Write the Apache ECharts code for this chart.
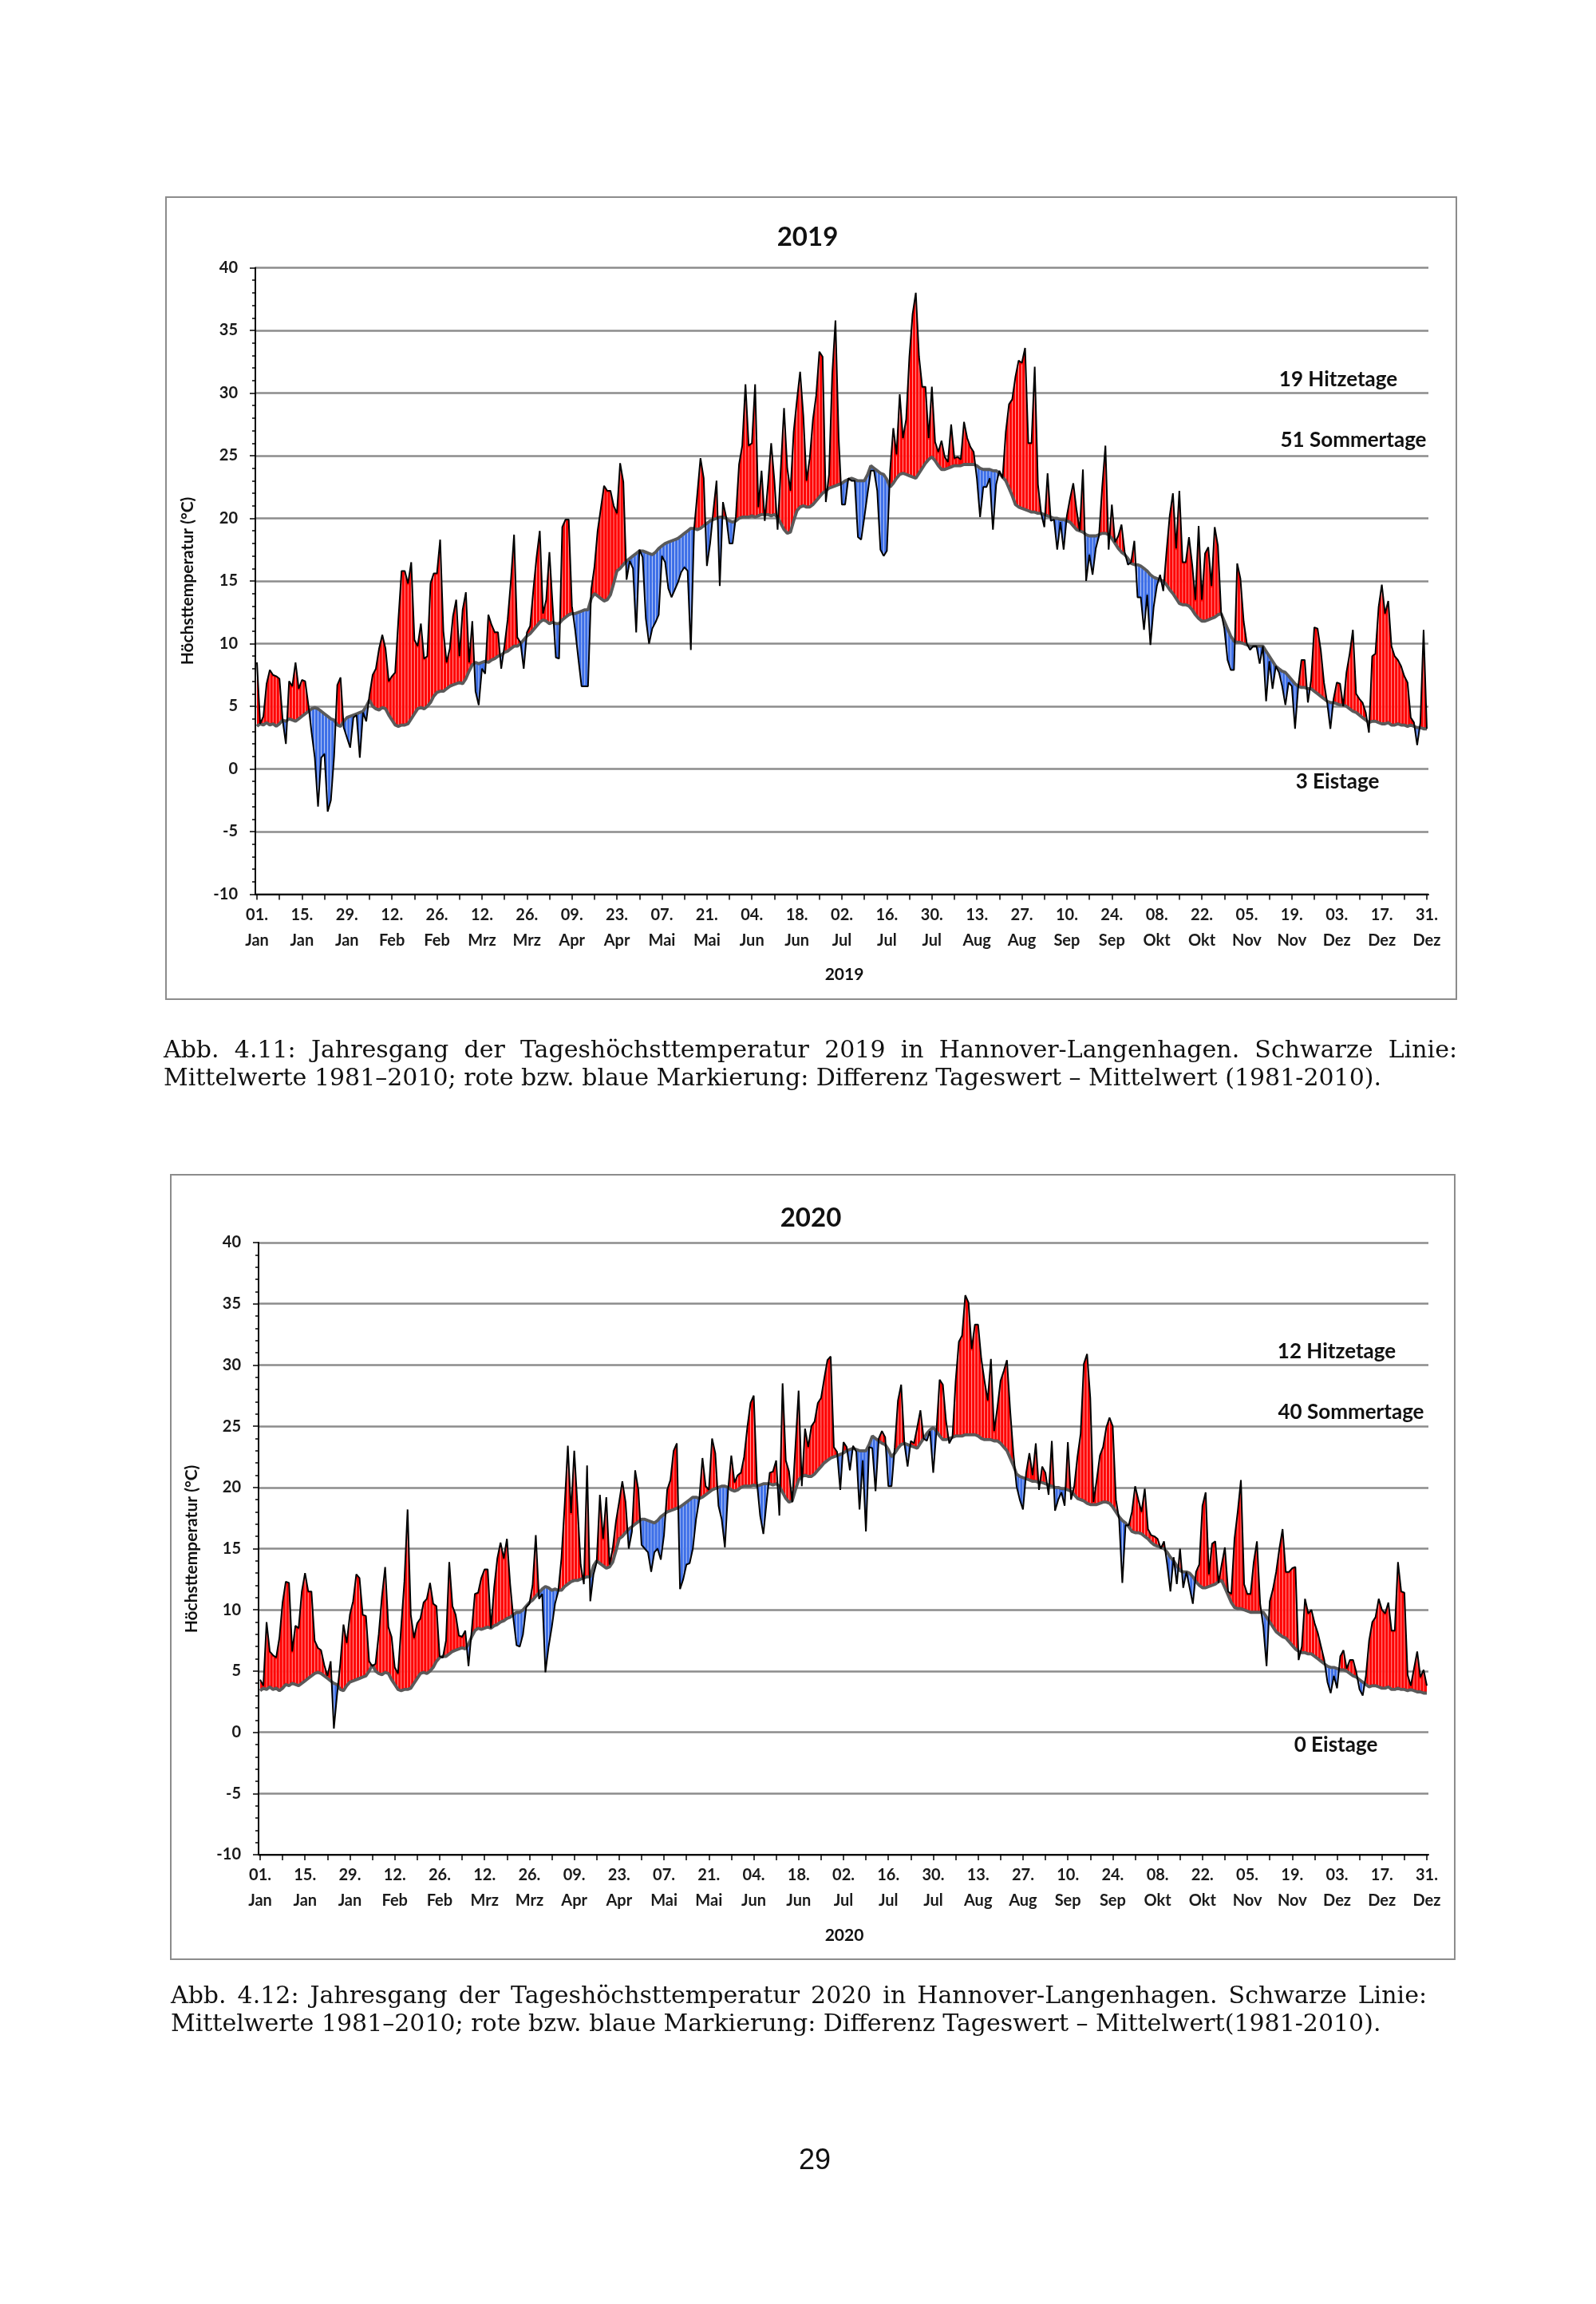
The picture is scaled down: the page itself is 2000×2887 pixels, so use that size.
<!DOCTYPE html>
<html>
<head>
<meta charset="utf-8">
<title>Jahresgang der Tageshöchsttemperatur 2019 / 2020 Hannover-Langenhagen</title>
<script src="https://cdn.jsdelivr.net/npm/echarts@6/dist/echarts.min.js"></script>
<style>
    html, body { margin: 0; padding: 0; background: #fff; }
    #page { position: relative; width: 2000px; height: 2887px; background: #fff; }
    #chart { position: absolute; left: 0; top: 0; width: 2000px; height: 2887px; }
    .cap { position: absolute; font-family: 'DejaVu Serif', serif; font-size: 26px; color: #111; line-height: 35px; white-space: nowrap; }
    .cap div.l1 { text-align: justify; text-align-last: justify; }
    .cap div.l2 { text-align: left; }
    #pnum { position: absolute; left: 921px; width: 200px; top: 2685px; text-align: center;
            font-family: 'Liberation Sans', Arial, sans-serif; font-size: 36px; color: #111; }
</style>
</head>
<body>
<div id="page">
    <div id="chart"></div>
    <div class="cap" id="cap1" style="left:205px; top:1297px; width:1621px;">
        <div class="l1">Abb. 4.11: Jahresgang der Tageshöchsttemperatur 2019 in Hannover-Langenhagen. Schwarze Linie:</div>
        <div class="l2"><span id="probe">Mittelwerte 1981–2010; rote bzw. blaue Markierung: Differenz Tageswert – Mittelwert (1981-2010).</span></div>
    </div>
    <div class="cap" id="cap2" style="left:214px; top:2482px; width:1574px;">
        <div class="l1">Abb. 4.12: Jahresgang der Tageshöchsttemperatur 2020 in Hannover-Langenhagen. Schwarze Linie:</div>
        <div class="l2">Mittelwerte 1981–2010; rote bzw. blaue Markierung: Differenz Tageswert – Mittelwert(1981-2010).</div>
    </div>
    <div id="pnum">29</div>
</div>
<script type="text/javascript">
    // Achsenbeschriftung (alle 14 Tage)
    var TICK_DAY = ['01.','15.','29.','12.','26.','12.','26.','09.','23.','07.','21.','04.','18.','02.',
                    '16.','30.','13.','27.','10.','24.','08.','22.','05.','19.','03.','17.','31.'];
    var TICK_MON = ['Jan','Jan','Jan','Feb','Feb','Mrz','Mrz','Apr','Apr','Mai','Mai','Jun','Jun','Jul',
                    'Jul','Jul','Aug','Aug','Sep','Sep','Okt','Okt','Nov','Nov','Dez','Dez','Dez'];

    // Mittelwert 1981-2010 (graue Linie), Tag 1..365
    var MEAN = [
        3.4, 3.6, 3.5, 3.7, 3.5, 3.6, 3.4, 3.6, 3.9, 3.8,
        4.0, 3.9, 3.8, 4.0, 4.2, 4.4, 4.6, 4.8, 4.9, 4.8,
        4.6, 4.4, 4.2, 4.0, 3.9, 3.5, 3.4, 3.8, 4.1, 4.2,
        4.3, 4.4, 4.5, 4.6, 5.0, 5.5, 5.0, 4.8, 4.7, 4.9,
        4.8, 4.3, 3.9, 3.5, 3.4, 3.5, 3.5, 3.6, 4.0, 4.4,
        4.8, 4.9, 4.8, 5.0, 5.3, 5.8, 6.1, 6.2, 6.2, 6.4,
        6.6, 6.7, 6.8, 6.9, 6.8, 7.2, 7.8, 8.3, 8.5, 8.4,
        8.5, 8.6, 8.5, 8.7, 8.8, 9.0, 9.1, 9.3, 9.4, 9.6,
        9.8, 9.8, 10.0, 10.3, 10.6, 10.8, 11.1, 11.4, 11.7, 11.9,
        11.8, 11.6, 11.7, 11.6, 11.6, 11.9, 12.1, 12.3, 12.4, 12.4,
        12.5, 12.6, 12.7, 12.7, 13.6, 14.0, 13.8, 13.6, 13.4, 13.5,
        13.9, 14.8, 15.8, 16.0, 16.3, 16.6, 16.8, 17.0, 17.2, 17.4,
        17.4, 17.3, 17.2, 17.1, 17.3, 17.6, 17.8, 18.0, 18.1, 18.2,
        18.3, 18.4, 18.6, 18.8, 19.0, 19.2, 19.2, 19.1, 19.2, 19.4,
        19.6, 19.8, 19.9, 20.0, 20.1, 20.1, 20.0, 19.8, 19.7, 19.8,
        20.0, 20.1, 20.1, 20.1, 20.2, 20.1, 20.2, 20.3, 20.3, 20.3,
        20.2, 20.3, 20.1, 19.6, 19.1, 18.8, 18.9, 19.8, 20.6, 20.9,
        21.0, 20.9, 20.9, 21.1, 21.4, 21.7, 22.0, 22.2, 22.4, 22.5,
        22.6, 22.7, 22.8, 23.0, 23.1, 23.2, 23.1, 23.0, 23.0, 23.0,
        23.5, 24.2, 24.0, 23.8, 23.6, 23.5, 23.1, 22.5, 22.8, 23.2,
        23.5, 23.6, 23.5, 23.4, 23.3, 23.2, 23.6, 24.0, 24.4, 24.7,
        24.9, 24.6, 24.2, 23.9, 23.9, 24.0, 24.1, 24.2, 24.2, 24.2,
        24.3, 24.3, 24.3, 24.3, 24.2, 24.0, 23.9, 23.9, 23.9, 23.8,
        23.8, 23.6, 23.3, 23.0, 22.4, 21.8, 21.1, 20.9, 20.8, 20.7,
        20.6, 20.5, 20.5, 20.4, 20.4, 20.3, 20.2, 20.1, 20.0, 20.0,
        19.9, 19.9, 19.8, 19.7, 19.4, 19.1, 19.0, 18.9, 18.7, 18.6,
        18.6, 18.6, 18.7, 18.8, 18.8, 18.7, 18.4, 18.0, 17.6, 17.3,
        17.1, 16.8, 16.4, 16.3, 16.3, 16.2, 16.0, 15.8, 15.5, 15.3,
        15.2, 15.1, 15.0, 14.7, 14.3, 14.0, 13.6, 13.2, 13.1, 13.1,
        13.0, 12.7, 12.3, 12.0, 11.8, 11.8, 11.9, 12.0, 12.1, 12.3,
        12.4, 11.8, 11.2, 10.6, 10.2, 10.1, 10.1, 10.0, 9.9, 9.8,
        9.8, 9.8, 9.8, 9.8, 9.4, 9.0, 8.6, 8.2, 8.0, 7.8,
        7.7, 7.4, 7.1, 6.8, 6.6, 6.5, 6.5, 6.4, 6.4, 6.2,
        6.0, 5.8, 5.6, 5.4, 5.3, 5.3, 5.2, 5.1, 5.1, 5.0,
        4.8, 4.6, 4.5, 4.3, 4.1, 3.9, 3.7, 3.8, 3.8, 3.7,
        3.6, 3.6, 3.7, 3.5, 3.5, 3.6, 3.5, 3.5, 3.4, 3.5,
        3.4, 3.3, 3.3, 3.2, 3.2
    ];

    // Tageshöchsttemperatur 2019
    var Y2019 = [
        8.5, 3.6, 4.2, 6.8, 7.9, 7.5, 7.4, 7.2, 3.9, 2.0,
        7.0, 6.6, 8.5, 6.4, 7.1, 7.0, 5.1, 2.9, 0.9, -3.0,
        0.9, 1.2, -3.4, -2.5, 1.0, 6.7, 7.3, 3.3, 2.5, 1.7,
        4.1, 4.3, 0.9, 4.5, 3.8, 5.9, 7.5, 8.0, 9.6, 10.7,
        9.6, 7.0, 7.4, 7.7, 11.9, 15.8, 15.8, 14.8, 16.5, 10.3,
        9.8, 11.6, 8.8, 9.0, 14.8, 15.6, 15.6, 18.3, 11.0, 8.5,
        9.6, 12.2, 13.5, 9.0, 12.7, 14.1, 8.5, 11.8, 6.2, 5.1,
        8.0, 7.6, 12.3, 11.5, 10.9, 10.9, 8.0, 9.8, 11.9, 15.0,
        18.7, 10.5, 10.1, 8.0, 10.9, 11.4, 14.3, 16.9, 19.0, 12.4,
        13.5, 17.3, 13.0, 8.9, 8.8, 19.3, 19.9, 19.9, 13.0, 11.1,
        8.8, 6.6, 6.6, 6.6, 14.3, 16.1, 19.0, 20.8, 22.6, 22.2,
        22.2, 21.0, 20.4, 24.4, 22.9, 15.1, 16.6, 16.0, 10.9, 17.5,
        16.9, 12.0, 10.0, 11.2, 11.7, 12.3, 17.0, 16.5, 14.4, 13.7,
        14.3, 14.9, 15.7, 16.1, 15.8, 9.5, 19.1, 21.9, 24.8, 23.2,
        16.2, 18.0, 20.6, 23.0, 14.6, 21.3, 20.1, 18.0, 18.0, 20.1,
        24.3, 25.8, 30.7, 25.8, 26.0, 30.7, 20.9, 23.8, 19.8, 22.7,
        26.0, 23.0, 19.1, 24.0, 28.8, 24.0, 22.2, 26.9, 29.4, 31.7,
        28.2, 23.0, 24.8, 27.9, 29.8, 33.3, 32.9, 21.3, 23.5, 31.5,
        35.8, 26.4, 21.1, 21.1, 23.2, 23.0, 23.0, 18.5, 18.3, 20.1,
        22.0, 23.8, 23.8, 22.2, 17.5, 17.0, 17.4, 23.8, 27.2, 25.1,
        29.9, 26.4, 27.9, 32.9, 36.3, 38.0, 32.9, 30.5, 30.5, 26.4,
        30.5, 26.1, 25.3, 26.2, 24.9, 24.5, 27.5, 24.8, 24.9, 24.7,
        27.7, 26.4, 25.7, 25.3, 23.2, 20.1, 22.5, 22.5, 23.2, 19.1,
        22.7, 23.8, 23.2, 26.9, 29.1, 29.5, 31.3, 32.6, 32.4, 33.6,
        26.0, 26.0, 32.1, 22.7, 20.4, 19.3, 23.6, 19.8, 19.9, 17.5,
        19.7, 17.5, 20.2, 21.6, 22.8, 20.7, 19.0, 23.9, 15.0, 17.1,
        15.5, 17.6, 18.6, 22.5, 25.8, 17.5, 21.1, 18.1, 18.6, 19.5,
        17.3, 16.3, 16.5, 18.2, 13.7, 13.7, 11.1, 13.9, 9.9, 12.9,
        14.6, 15.5, 14.2, 17.3, 20.2, 22.0, 17.6, 22.2, 16.5, 16.5,
        18.5, 16.3, 13.5, 19.4, 13.5, 17.2, 17.7, 14.6, 19.3, 17.8,
        12.5, 11.2, 8.7, 7.9, 7.9, 16.4, 15.2, 11.8, 10.0, 9.5,
        9.8, 9.8, 8.4, 9.8, 5.4, 8.6, 6.4, 8.2, 7.7, 6.6,
        5.1, 6.9, 6.6, 3.2, 6.6, 8.7, 8.7, 5.3, 7.1, 11.3,
        11.2, 9.5, 6.9, 5.3, 3.2, 5.6, 6.9, 6.8, 5.0, 7.7,
        9.2, 11.1, 6.0, 5.6, 5.3, 4.5, 2.9, 9.0, 9.2, 12.9,
        14.7, 12.4, 13.4, 9.8, 9.0, 8.7, 8.2, 7.4, 6.9, 4.1,
        3.7, 1.9, 3.7, 11.1, 3.2
    ];

    // Tageshöchsttemperatur 2020
    var Y2020 = [
        4.3, 3.8, 9.0, 6.6, 6.3, 6.1, 7.7, 10.6, 12.3, 12.2,
        6.6, 8.7, 8.5, 11.5, 13.0, 11.5, 11.5, 7.5, 6.9, 6.7,
        5.5, 4.6, 5.8, 0.3, 3.1, 5.6, 8.8, 7.3, 9.6, 10.7,
        12.9, 12.6, 9.6, 9.5, 5.8, 5.4, 5.6, 8.0, 11.1, 13.5,
        8.6, 7.8, 5.3, 4.8, 8.6, 12.3, 18.2, 9.6, 7.7, 8.9,
        9.3, 10.6, 10.9, 12.2, 10.5, 10.3, 6.2, 6.1, 7.5, 13.9,
        10.3, 9.6, 7.9, 7.8, 8.3, 5.4, 8.3, 11.3, 11.4, 12.6,
        13.3, 13.3, 8.5, 11.8, 14.2, 15.5, 14.2, 15.8, 12.1, 9.3,
        7.1, 7.0, 8.0, 10.2, 10.5, 12.0, 16.1, 10.9, 11.3, 4.9,
        7.0, 8.6, 10.5, 11.5, 14.2, 18.5, 23.4, 17.9, 23.0, 18.5,
        13.7, 12.1, 21.8, 10.7, 12.9, 13.9, 19.4, 15.8, 19.2, 13.7,
        15.0, 17.2, 18.8, 20.5, 18.8, 15.0, 16.4, 21.4, 19.8, 15.3,
        15.0, 14.7, 13.1, 14.7, 15.0, 14.1, 16.1, 19.8, 20.6, 23.0,
        23.6, 11.7, 12.5, 13.7, 13.8, 15.0, 17.4, 19.0, 22.4, 20.1,
        19.8, 24.0, 22.8, 18.5, 17.4, 15.1, 19.8, 22.6, 20.4, 21.0,
        21.2, 22.5, 24.9, 26.9, 27.5, 20.4, 17.7, 16.2, 18.8, 21.2,
        21.3, 22.2, 17.7, 28.5, 22.2, 21.3, 18.8, 23.3, 27.9, 20.1,
        24.8, 23.3, 25.0, 25.4, 26.9, 27.3, 28.9, 30.4, 30.7, 23.3,
        22.9, 19.8, 23.7, 23.3, 21.4, 23.4, 22.9, 18.2, 22.2, 16.4,
        23.3, 23.2, 19.7, 24.0, 24.6, 24.1, 20.1, 20.1, 23.3, 27.1,
        28.4, 23.6, 21.7, 23.8, 23.6, 24.9, 26.3, 24.0, 23.8, 24.6,
        21.2, 24.6, 28.8, 28.4, 25.4, 23.6, 24.1, 28.7, 31.9, 32.4,
        35.7, 35.1, 31.3, 33.3, 33.3, 30.5, 28.7, 27.1, 30.5, 24.6,
        26.5, 28.7, 29.5, 30.4, 26.3, 22.8, 20.1, 19.0, 18.2, 21.2,
        22.8, 21.0, 23.6, 19.8, 21.7, 21.2, 19.4, 23.8, 18.1, 19.0,
        19.6, 18.5, 23.7, 19.0, 20.1, 22.5, 24.4, 30.1, 30.9, 27.3,
        18.8, 20.6, 22.6, 23.3, 24.9, 25.7, 25.0, 19.0, 17.4, 12.2,
        16.9, 16.9, 18.0, 20.1, 19.0, 18.0, 19.9, 16.6, 16.1, 16.0,
        15.8, 15.0, 15.6, 13.7, 11.5, 14.3, 12.1, 15.0, 11.8, 13.1,
        11.8, 10.5, 13.1, 13.7, 18.5, 19.6, 12.9, 15.4, 15.6, 12.2,
        13.7, 15.1, 11.5, 11.3, 15.8, 18.0, 20.6, 12.1, 11.3, 11.3,
        13.9, 15.6, 10.5, 8.6, 5.4, 10.7, 11.7, 13.1, 15.0, 16.6,
        13.1, 13.1, 13.4, 13.5, 5.9, 7.0, 10.9, 9.7, 10.0, 8.9,
        8.1, 7.0, 5.9, 4.1, 3.2, 4.6, 3.6, 6.2, 6.7, 5.2,
        5.9, 5.9, 4.9, 3.5, 3.0, 4.6, 7.5, 9.0, 9.4, 10.9,
        10.0, 9.7, 10.6, 8.3, 8.3, 13.9, 11.5, 11.4, 4.7, 3.8,
        5.2, 6.6, 4.5, 5.1, 3.8
    ];

    // Kenntage je Jahr
    var COUNTS_2019 = ['19 Hitzetage', '51 Sommertage', '3 Eistage'];
    var COUNTS_2020 = ['12 Hitzetage', '40 Sommertage', '0 Eistage'];

    var RED = '#ff0000', BLUE = '#3d6fe8';
    var FONT = 'Lato, "Open Sans", sans-serif';
    var DAYS = Y2019.map(function (v, i) { return i; });

    // Fläche zwischen Tageswert und Mittelwert, am Schnittpunkt geteilt,
    // dazu die feinen weißen Tagesstriche wie im Original
    function bandRenderer(vals) {
        return function (params, api) {
            var i = params.dataIndex;
            if (i >= vals.length - 1) return null;
            var v0 = vals[i], v1 = vals[i + 1], m0 = MEAN[i], m1 = MEAN[i + 1];
            var d0 = v0 - m0, d1 = v1 - m1;
            var pv0 = api.coord([i, v0]), pv1 = api.coord([i + 1, v1]);
            var pm0 = api.coord([i, m0]), pm1 = api.coord([i + 1, m1]);
            var kids = [];
            function poly(pts, up) {
                kids.push({ type: 'polygon', shape: { points: pts }, style: { fill: up ? RED : BLUE } });
            }
            if (d0 * d1 >= 0) {
                poly([pm0, pv0, pv1, pm1], (d0 + d1) >= 0);
            } else {
                var t = d0 / (d0 - d1);
                var c = [pv0[0] + t * (pv1[0] - pv0[0]), pm0[1] + t * (pm1[1] - pm0[1])];
                poly([pm0, pv0, c], d0 > 0);
                poly([c, pv1, pm1], d1 > 0);
            }
            if (i > 0 && Math.abs(d0) > 0.6) {
                var dir = d0 > 0 ? 1 : -1;
                kids.push({
                    type: 'line',
                    shape: { x1: pv0[0], y1: pm0[1] - dir * 2, x2: pv0[0], y2: pv0[1] + dir * 2 },
                    style: { stroke: '#ffffff', lineWidth: 1, opacity: 0.5 }
                });
            }
            return { type: 'group', children: kids };
        };
    }

    function xAx(gi) {
        return {
            type: 'category', gridIndex: gi, data: DAYS, boundaryGap: true,
            axisLine: { onZero: false, lineStyle: { color: '#000', width: 2 } },
            axisTick: { show: true, interval: 6, alignWithLabel: true, length: 7, lineStyle: { color: '#000', width: 1.5 } },
            axisLabel: {
                interval: 13, margin: 10, color: '#1a1a1a', fontFamily: FONT, fontWeight: 'bold',
                fontSize: 20, lineHeight: 32,
                formatter: function (v, idx) {
                    return idx % 14 === 0 ? TICK_DAY[idx / 14] + '\n' + TICK_MON[idx / 14] : '';
                }
            },
            splitLine: { show: false }
        };
    }

    function yAx(gi) {
        return {
            type: 'value', gridIndex: gi, min: -10, max: 40, interval: 5,
            axisLine: { show: true, lineStyle: { color: '#000', width: 2 } },
            axisTick: { show: true, length: 7, lineStyle: { color: '#000', width: 1.5 } },
            minorTick: { show: true, splitNumber: 5, length: 4, lineStyle: { color: '#000', width: 1.5 } },
            axisLabel: { margin: 22, color: '#1a1a1a', fontFamily: FONT, fontWeight: 'bold', fontSize: 20 },
            splitLine: { show: true, lineStyle: { color: '#8c8c8c', width: 2.5 } }
        };
    }

    function panelSeries(gi, vals) {
        return [{
            type: 'custom', xAxisIndex: gi, yAxisIndex: gi, z: 1, silent: true,
            data: vals.map(function (v, i) { return [i, v]; }),
            renderItem: bandRenderer(vals)
        }, {
            type: 'line', xAxisIndex: gi, yAxisIndex: gi, z: 3, silent: true,
            data: MEAN, symbol: 'none', lineStyle: { color: '#5a5a5a', width: 3.8 }
        }, {
            type: 'line', xAxisIndex: gi, yAxisIndex: gi, z: 4, silent: true,
            data: vals, symbol: 'none', lineStyle: { color: '#000', width: 2 }
        }];
    }

    function txt(x, y, s, size, extra) {
        var el = {
            type: 'text', x: x, y: y, z: 10,
            style: {
                text: s, fill: '#111', font: 'bold ' + size + 'px ' + FONT,
                align: 'center', verticalAlign: 'middle', textAlign: 'center', textVerticalAlign: 'middle'
            }
        };
        if (extra) for (var k in extra) el[k] = extra[k];
        return el;
    }

    function box(x, y, w, h) {
        return { type: 'rect', z: 0, shape: { x: x, y: y, width: w, height: h },
                 style: { fill: 'none', stroke: '#8c8c8c', lineWidth: 2 } };
    }

    var myChart = echarts.init(document.getElementById('chart'), null, { renderer: 'canvas' });

    myChart.setOption({
        backgroundColor: '#fff',
        animation: false,
        grid: [
            { left: 320, top: 335.5, width: 1470, height: 785, outerBoundsMode: 'none' },
            { left: 324, top: 1557, width: 1466, height: 767, outerBoundsMode: 'none' }
        ],
        xAxis: [xAx(0), xAx(1)],
        yAxis: [yAx(0), yAx(1)],
        series: panelSeries(0, Y2019).concat(panelSeries(1, Y2020)),
        graphic: [
            box(208, 247, 1617, 1005),
            box(214, 1472, 1609, 983),
            txt(1012, 297, '2019', 33),
            txt(1016, 1526, '2020', 33),
            txt(1058, 1221, '2019', 21),
            txt(1058, 2425, '2020', 21),
            txt(235, 728, 'Höchsttemperatur (°C)', 21, { rotation: Math.PI / 2 }),
            txt(240, 1941, 'Höchsttemperatur (°C)', 21, { rotation: Math.PI / 2 }),
            txt(1677, 476, COUNTS_2019[0], 26),
            txt(1696, 552, COUNTS_2019[1], 26),
            txt(1676, 980, COUNTS_2019[2], 26),
            txt(1675, 1694, COUNTS_2020[0], 26),
            txt(1693, 1770, COUNTS_2020[1], 26),
            txt(1674, 2187, COUNTS_2020[2], 26)
        ]
    });

    // Schriftgröße der Bildunterschrift an die Zeilenbreite im Original anpassen
    (function () {
        var probe = document.getElementById('probe');
        var w = probe.getBoundingClientRect().width;
        var size = Math.max(22, Math.min(30, 26 * 1547 / w));
        document.getElementById('cap1').style.fontSize = size + 'px';
        document.getElementById('cap2').style.fontSize = size + 'px';
    })();
</script>
</body>
</html>
